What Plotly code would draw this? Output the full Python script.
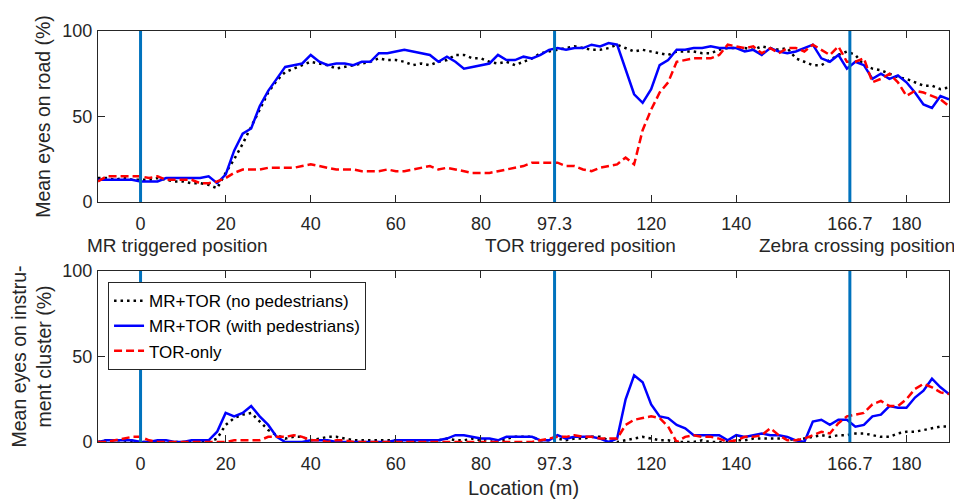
import plotly.graph_objects as go

# ---------------- data ----------------
location = list(range(-10, 191, 2))

road_no_peds = [
    14, 14, 13, 14, 13, 13, 13, 14, 13, 12,
    12, 11, 11, 10, 8, 17, 25, 34, 44, 54,
    64, 71, 76, 78, 80, 82, 81, 80, 78, 79,
    80, 81, 82, 84, 83, 83, 82, 80, 81, 80,
    82, 83, 86, 86, 84, 84, 82, 81, 82, 80,
    82, 84, 87, 88, 89, 90, 91, 90, 89, 89,
    90, 92, 90, 88, 89, 88, 87, 86, 88, 88,
    88, 87, 87, 89, 90, 90, 90, 89, 91, 90,
    89, 90, 84, 82, 80, 80, 83, 86, 88, 86,
    80, 78, 77, 75, 73, 72, 70, 68, 68, 66,
    67]

road_with_peds = [
    13, 13, 13, 13, 13, 12, 12, 12, 14, 14,
    14, 14, 14, 15, 11, 16, 30, 40, 43, 56,
    65, 72, 79, 80, 81, 86, 82, 80, 81, 81,
    80, 82, 82, 87, 87, 88, 89, 88, 87, 86,
    82, 85, 82, 78, 79, 80, 81, 86, 83, 83,
    85, 84, 86, 89, 90, 89, 90, 90, 92, 91,
    93, 92, 77, 63, 58, 66, 80, 83, 89, 89,
    90, 90, 91, 90, 90, 90, 88, 89, 86, 90,
    88, 87, 88, 90, 92, 84, 82, 86, 78, 82,
    80, 72, 75, 72, 74, 70, 64, 57, 55, 62,
    60]

road_tor_only = [
    12, 15, 15, 15, 15, 15, 14, 15, 13, 13,
    13, 13, 11, 11, 12, 14, 17, 19, 19, 19,
    20, 20, 20, 20, 21, 22, 21, 20, 19, 19,
    19, 18, 18, 18, 19, 18, 18, 19, 20, 21,
    19, 20, 19, 18, 17, 17, 17, 18, 19, 20,
    21, 23, 23, 23, 23, 21, 21, 19, 18, 20,
    21, 22, 26, 22, 42, 54, 64, 70, 82, 83,
    84, 84, 84, 86, 92, 91, 90, 91, 87, 90,
    87, 90, 90, 88, 92, 89, 86, 91, 82, 82,
    84, 70, 72, 75, 70, 62, 65, 64, 62, 60,
    56]

ic_no_peds = [
    0, 1, 1, 1, 0, 0, 0, 0, 0, 0,
    0, 0, 0, 0, 2, 10, 14, 16, 17, 12,
    7, 4, 2, 3, 3, 1, 2, 3, 3, 2,
    1, 1, 1, 1, 1, 1, 0, 0, 1, 1,
    1, 2, 1, 1, 2, 1, 2, 0, 2, 3,
    3, 3, 1, 1, 2, 1, 2, 2, 3, 3,
    1, 0, 1, 2, 3, 2, 1, 1, 0, 0,
    0, 1, 0, 0, 0, 1, 1, 2, 2, 2,
    2, 2, 1, 2, 3, 4, 3, 4, 4, 5,
    5, 4, 3, 3, 5, 6, 6, 7, 8, 9,
    9]

ic_with_peds = [
    0, 1, 1, 1, 1, 0, 0, 1, 1, 0,
    0, 1, 1, 1, 6, 17, 15, 17, 21, 15,
    10, 3, 0, 0, 0, 1, 1, 1, 0, 0,
    0, 0, 0, 0, 0, 1, 1, 1, 1, 1,
    1, 2, 4, 4, 3, 2, 2, 1, 3, 3,
    3, 3, 1, 1, 4, 2, 3, 3, 3, 2,
    0, 2, 25, 39, 35, 22, 15, 14, 10, 8,
    4, 4, 4, 4, 1, 4, 3, 4, 5, 4,
    4, 3, 1, 0, 12, 13, 10, 13, 13, 9,
    10, 15, 16, 21, 20, 20, 26, 30, 37, 32,
    28]

ic_tor_only = [
    0, 0, 1, 2, 3, 3, 1, 0, 0, 0,
    0, 0, 0, 0, 0, 0, 1, 1, 1, 1,
    3, 3, 3, 4, 3, 1, 1, 0, 1, 1,
    0, 0, 0, 0, 0, 0, 0, 0, 0, 0,
    0, 0, 0, 0, 0, 0, 0, 0, 0, 0,
    0, 0, 1, 2, 3, 3, 4, 3, 3, 2,
    2, 2, 10, 13, 14, 15, 14, 9, 0, 3,
    4, 3, 3, 2, 0, 1, 3, 3, 4, 8,
    4, 1, 1, 2, 4, 6, 5, 11, 15, 16,
    17, 22, 24, 21, 21, 25, 31, 34, 32, 29,
    28]

tick_vals = [0, 20, 40, 60, 80, 97.3, 120, 140, 166.7, 180]
tick_text = ["0", "20", "40", "60", "80", "97.3", "120", "140", "166.7", "180"]
event_positions = [0, 97.3, 166.7]
event_labels = ["MR triggered position", "TOR triggered position", "Zebra crossing position"]
event_label_x = [8.8, 103.4, 168.4]
series_names = ["MR+TOR (no pedestrians)", "MR+TOR (with pedestrians)", "TOR-only"]

# ---------------- styling ----------------
FONT = "Liberation Sans, Arial, sans-serif"
TXT = "#262626"
styles = [
    dict(color="#000000", width=2.5, dash="2.5px,4px"),
    dict(color="#0000FF", width=2.5, dash="solid"),
    dict(color="#FF0000", width=2.5, dash="8px,4px"),
]

fig = go.Figure()
top_series = [road_no_peds, road_with_peds, road_tor_only]
bot_series = [ic_no_peds, ic_with_peds, ic_tor_only]
for name, ys, st in zip(series_names, top_series, styles):
    fig.add_trace(go.Scatter(x=location, y=ys, mode="lines", name=name,
                             line=st, xaxis="x", yaxis="y", showlegend=False))
for name, ys, st in zip(series_names, bot_series, styles):
    fig.add_trace(go.Scatter(x=location, y=ys, mode="lines", name=name,
                             line=st, xaxis="x2", yaxis="y2", showlegend=True))

for xv in event_positions:
    for xr, yr in (("x", "y domain"), ("x2", "y2 domain")):
        fig.add_shape(type="line", xref=xr, yref=yr, x0=xv, x1=xv, y0=0, y1=1,
                      line=dict(color="#0072BD", width=3), layer="above")

for lab, xv in zip(event_labels, event_label_x):
    fig.add_annotation(text=lab, x=xv, xref="x", y=0.477, yref="paper",
                       showarrow=False, xanchor="center", yanchor="middle",
                       font=dict(family=FONT, size=19, color=TXT))

common_x = dict(range=[-10, 190], tickmode="array", tickvals=tick_vals, ticktext=tick_text,
                ticks="inside", ticklen=7, tickcolor=TXT, showline=True, linecolor=TXT,
                linewidth=1, mirror="ticks", showgrid=False, zeroline=False,
                automargin=False, ticklabelstandoff=5,
                tickfont=dict(family=FONT, size=18, color=TXT))
common_y = dict(range=[0, 100], tickmode="array", tickvals=[0, 50, 100],
                ticks="inside", ticklen=7, tickcolor=TXT, showline=True, linecolor=TXT,
                linewidth=1, mirror="ticks", showgrid=False, zeroline=False,
                automargin=False, ticklabelstandoff=1,
                tickfont=dict(family=FONT, size=18, color=TXT))

# the page body adds an 8px margin, so the figure is sized to fit 962x500 exactly
fig.update_layout(
    width=954, height=492,
    margin=dict(l=90, r=13, t=23, b=58),
    paper_bgcolor="white", plot_bgcolor="white",
    font=dict(family=FONT, size=18, color=TXT),
    xaxis=dict(domain=[0, 1], anchor="y", **common_x),
    yaxis=dict(domain=[0.584, 1], anchor="x",
               title=dict(text="Mean eyes on road (%)", standoff=6,
                          font=dict(family=FONT, size=19.5, color=TXT)), **common_y),
    xaxis2=dict(domain=[0, 1], anchor="y2",
                title=dict(text="Location (m)", standoff=8,
                           font=dict(family=FONT, size=20, color=TXT)), **common_x),
    yaxis2=dict(domain=[0, 0.416], anchor="x2",
                title=dict(text="Mean eyes on instru-<br>ment cluster (%)", standoff=5,
                           font=dict(family=FONT, size=19.5, color=TXT)), **common_y),
    legend=dict(x=0.0118, y=0.389, xanchor="left", yanchor="top",
                bgcolor="white", bordercolor=TXT, borderwidth=1,
                font=dict(family=FONT, size=17, color="#000000"),
                tracegroupgap=0, itemwidth=30),
    showlegend=True,
)

fig.write_html("out.html")
